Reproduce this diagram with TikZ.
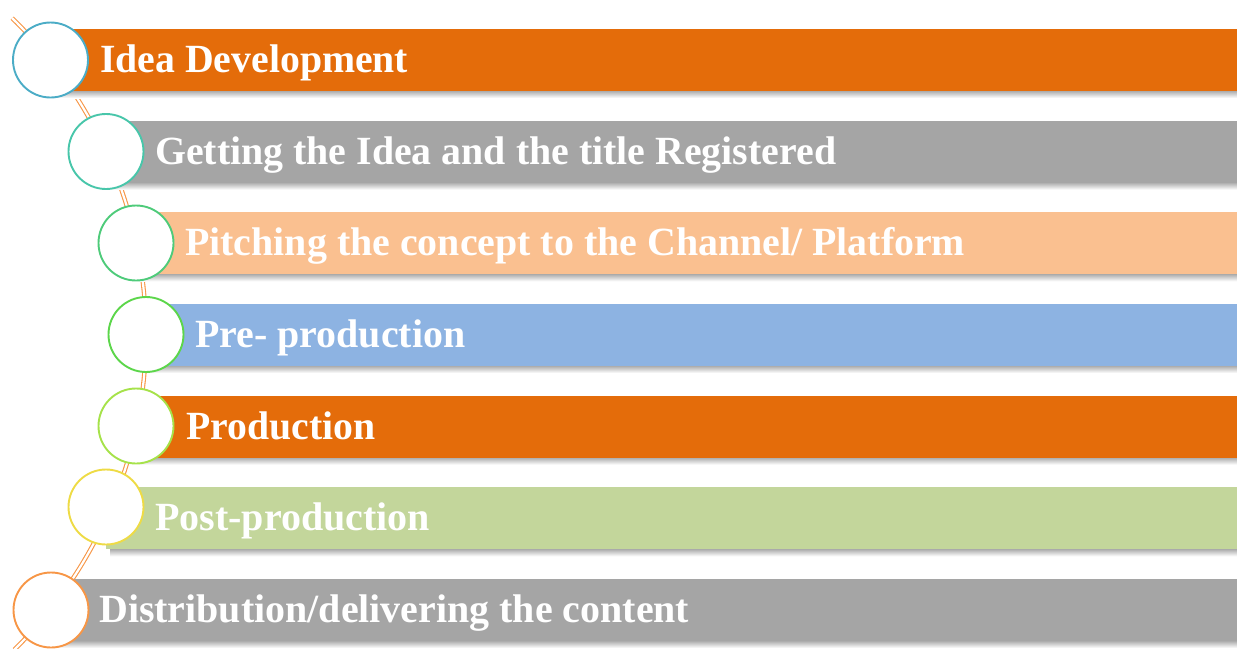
\documentclass[tikz,border=0pt]{standalone}
\usepackage{fontspec}
\setmainfont{Liberation Serif}
\usetikzlibrary{calc}
\definecolor{barorange}{HTML}{E46C0A}
\definecolor{bargray}{HTML}{A5A5A5}
\definecolor{barpeach}{HTML}{FAC090}
\definecolor{barblue}{HTML}{8DB3E2}
\definecolor{bargreen}{HTML}{C3D69B}
\definecolor{arcorange}{HTML}{F79646}
\definecolor{cA}{HTML}{4BACC6}
\definecolor{cB}{HTML}{48C6AA}
\definecolor{cC}{HTML}{4ECB7A}
\definecolor{cD}{HTML}{5CD64A}
\definecolor{cE}{HTML}{A6E24A}
\definecolor{cF}{HTML}{EEDB45}
\definecolor{cG}{HTML}{F79646}
\begin{document}
\begin{tikzpicture}[x=1pt,y=1pt,
  spine/.style={draw=arcorange, line width=1.1pt, double=white, double distance=2.2pt},
  barbox/.style={rectangle, inner sep=0pt, outer sep=0pt, minimum height=62pt, anchor=north west, draw=none},
  barshadow/.style={top color=black!32, bottom color=white, draw=none},
  stepcirc/.style={circle, fill=white, line width=1.9pt, minimum size=75pt, inner sep=0pt},
  lbl/.style={anchor=base west, inner sep=0pt, text=white, font=\fontsize{40}{48}\selectfont\bfseries}
]
\useasboundingbox (0,0) rectangle (1237,-648);
% spine arc
\coordinate (arcC) at (-296,-335);
\coordinate (arcS) at ($(arcC)+(45.8:442pt)$);
\draw[spine] (arcS) arc[start angle=45.8, end angle=-45.4, radius=442pt];
% shadows
\foreach \x/\yb in {50/91, 106/182.7, 136/274.3, 146/366, 136/457.7, 106/549.3, 51/641}{
  \shade[barshadow] (\x+4,-\yb) rectangle (1237,-\yb-7);
}
% bars
\node[barbox, fill=barorange, minimum width=1187pt] (b1) at (50,-29) {};
\node[barbox, fill=bargray,   minimum width=1131pt] (b2) at (106,-120.7) {};
\node[barbox, fill=barpeach,  minimum width=1101pt] (b3) at (136,-212.3) {};
\node[barbox, fill=barblue,   minimum width=1091pt] (b4) at (146,-304) {};
\node[barbox, fill=barorange, minimum width=1101pt] (b5) at (136,-395.7) {};
\node[barbox, fill=bargreen,  minimum width=1131pt] (b6) at (106,-487.3) {};
\node[barbox, fill=bargray,   minimum width=1186pt] (b7) at (51,-579) {};
% circles
\node[stepcirc, draw=cA] (c1) at (50.5,-60) {};
\node[stepcirc, draw=cB] (c2) at (106,-151.5) {};
\node[stepcirc, draw=cC] (c3) at (136,-243) {};
\node[stepcirc, draw=cD] (c4) at (146,-334.5) {};
\node[stepcirc, draw=cE] (c5) at (136,-426) {};
\node[stepcirc, draw=cF] (c6) at (106,-507) {};
\node[stepcirc, draw=cG] (c7) at (51,-610) {};
% labels
\node[lbl] (t1) at (100,-72) {\resizebox{308pt}{\height}{Idea Development}};
\node[lbl] (t2) at (155,-164) {\resizebox{681pt}{\height}{Getting the Idea and the title Registered}};
\node[lbl] (t3) at (185,-255) {\resizebox{780pt}{\height}{Pitching the concept to the Channel/ Platform}};
\node[lbl] (t4) at (195,-347) {\resizebox{270pt}{\height}{Pre- production}};
\node[lbl] (t5) at (186,-439) {\resizebox{189pt}{\height}{Production}};
\node[lbl] (t6) at (155,-530) {\resizebox{275pt}{\height}{Post-production}};
\node[lbl] (t7) at (99,-622) {\resizebox{590pt}{\height}{Distribution/delivering the content}};
\end{tikzpicture}
\end{document}
